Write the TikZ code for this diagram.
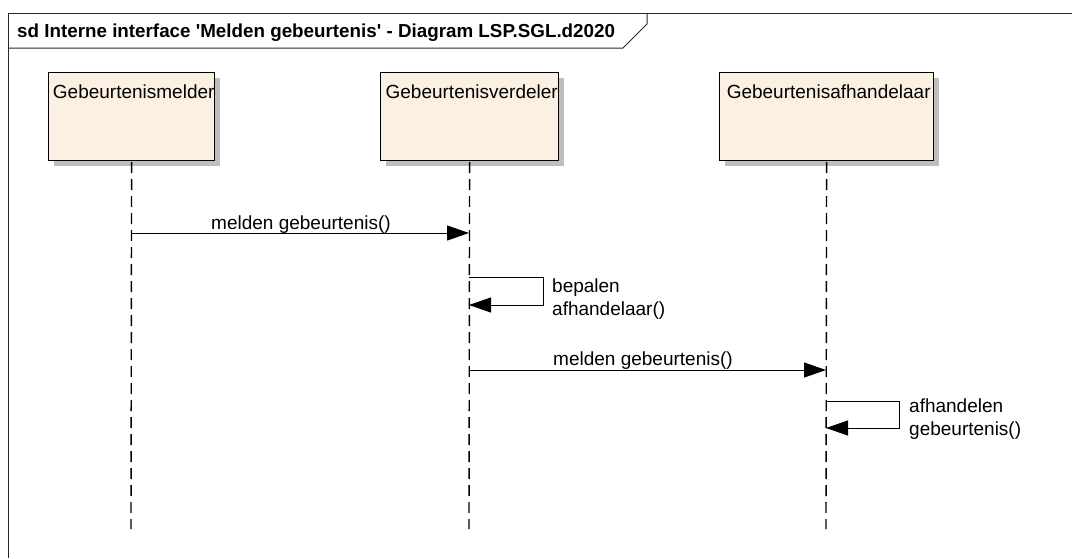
\documentclass[tikz,border=0pt]{standalone}
\usepackage{fontspec}
\setmainfont{Liberation Sans}
\usetikzlibrary{arrows.meta,shadows}
\definecolor{boxfill}{RGB}{251,240,226}
\definecolor{shadowcol}{RGB}{190,190,190}
\definecolor{framecol}{RGB}{40,40,40}
\newcommand{\lblfont}{\fontsize{19}{23}\selectfont}
\tikzset{
  actor/.style={draw=black, line width=1.2pt, fill=boxfill, rectangle,
    anchor=north west, minimum height=88pt, inner sep=0pt,
    drop shadow={shadow xshift=5pt, shadow yshift=-5pt, fill=shadowcol, opacity=1},
    path picture={\node[anchor=base west, inner sep=0pt, font=\lblfont]
      at ([shift={(1.5pt,-26pt)}]path picture bounding box.north west) {#1};}},
  lifeline/.style={draw=black, line width=1.4pt, dash pattern=on 11pt off 6pt},
  msg/.style={draw=black, line width=1pt, -{Triangle[length=22pt,width=15pt]}},
  msglabel/.style={font=\lblfont, inner sep=0pt, anchor=base},
  selflabel/.style={font=\lblfont, inner sep=0pt, anchor=base west, align=left},
}
\begin{document}
\begin{tikzpicture}[x=1pt,y=-1pt]
\useasboundingbox (0,0) rectangle (1072,558);
\fill[white] (0,0) rectangle (1072,558);
% frame
\draw[framecol, line width=1pt] (8,558) -- (8,13.5) -- (1072,13.5);
\draw[framecol, line width=1pt] (8,48) -- (623,48) -- (647,24) -- (647,13.5);
\node[anchor=base west, inner sep=0pt, font=\bfseries\fontsize{18.8}{22}\selectfont] (title) at (17,37)
  {sd Interne interface \textquotesingle Melden gebeurtenis\textquotesingle\ - Diagram LSP.SGL.d2020};
% lifeline heads
\node[actor={Gebeurtenismelder}, minimum width=166pt] (b1) at (48,72) {};
\node[actor={Gebeurtenisverdeler}, minimum width=178pt] (b2) at (380,72) {};
\node[actor={Gebeurtenisafhandelaar}, minimum width=214pt] (b3) at (719,72) {};
% lifelines
\coordinate (e1) at (131,529);
\coordinate (e2) at (469,529);
\coordinate (e3) at (826,529);
\draw[lifeline] ([yshift=-1pt]b1.south) -- (e1);
\draw[lifeline] ([yshift=-1pt]b2.south) -- (e2);
\draw[lifeline] ([yshift=-1pt]b3.south) -- (e3);
% message 1
\coordinate (m1a) at (131,233);
\coordinate (m1b) at (469,233);
\draw[msg] (m1a) -- (m1b);
\node[msglabel] (l1) at (301,229) {melden gebeurtenis()};
% self message 1
\coordinate (s1a) at (469,277);
\coordinate (s1b) at (469,305);
\draw[msg] (s1a) -- (543,277) |- (s1b);
\node[selflabel] (l2a) at (552,292) {bepalen};
\node[selflabel] (l2b) at (552,315) {afhandelaar()};
% message 2
\coordinate (m2a) at (469,370);
\coordinate (m2b) at (826,370);
\draw[msg] (m2a) -- (m2b);
\node[msglabel] (l3) at (643,365) {melden gebeurtenis()};
% self message 2
\coordinate (s2a) at (826,401);
\coordinate (s2b) at (826,428);
\draw[msg] (s2a) -- (899,401) |- (s2b);
\node[selflabel] (l4a) at (909,412) {afhandelen};
\node[selflabel] (l4b) at (909,435) {gebeurtenis()};
\end{tikzpicture}
\end{document}
